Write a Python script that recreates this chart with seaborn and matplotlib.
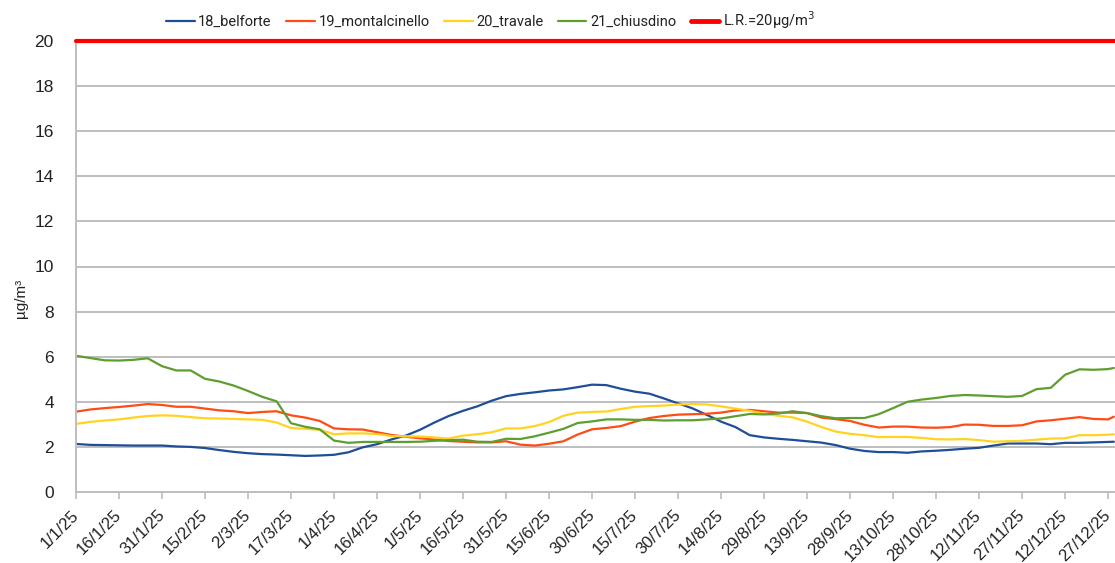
import matplotlib
matplotlib.use("Agg")
import matplotlib.pyplot as plt
from matplotlib.lines import Line2D
import seaborn as sns
import pandas as pd

# Sampling dates: every 5 days through the year, plus the last visible day
start = pd.Timestamp("2025-01-01")
day_offsets = list(range(0, 361, 5)) + [362]
dates = [start + pd.Timedelta(days=d) for d in day_offsets]

belforte = [2.13, 2.09, 2.08, 2.07, 2.06, 2.06, 2.06, 2.02, 2.00, 1.95,
            1.86, 1.78, 1.72, 1.68, 1.66, 1.63, 1.60, 1.62, 1.65, 1.76,
            1.98, 2.12, 2.33, 2.50, 2.76, 3.08, 3.37, 3.60, 3.80, 4.05,
            4.25, 4.35, 4.42, 4.50, 4.55, 4.65, 4.76, 4.74, 4.58, 4.45,
            4.36, 4.15, 3.93, 3.71, 3.42, 3.12, 2.88, 2.52, 2.42, 2.36,
            2.31, 2.25, 2.19, 2.08, 1.92, 1.82, 1.77, 1.77, 1.74, 1.80,
            1.83, 1.87, 1.92, 1.96, 2.06, 2.15, 2.15, 2.15, 2.12, 2.18,
            2.18, 2.20, 2.22, 2.23]

montalcinello = [3.56, 3.66, 3.72, 3.77, 3.83, 3.90, 3.86, 3.78, 3.78, 3.70,
                 3.62, 3.58, 3.50, 3.55, 3.58, 3.40, 3.30, 3.15, 2.82, 2.78,
                 2.77, 2.65, 2.53, 2.45, 2.38, 2.33, 2.26, 2.23, 2.20, 2.20,
                 2.25, 2.10, 2.06, 2.14, 2.25, 2.55, 2.78, 2.84, 2.92, 3.12,
                 3.28, 3.37, 3.43, 3.45, 3.47, 3.52, 3.62, 3.64, 3.58, 3.52,
                 3.52, 3.50, 3.30, 3.23, 3.15, 2.98, 2.86, 2.90, 2.90, 2.86,
                 2.85, 2.88, 2.99, 2.98, 2.93, 2.93, 2.96, 3.13, 3.18, 3.25,
                 3.32, 3.24, 3.22, 3.34]

travale = [3.02, 3.11, 3.17, 3.22, 3.30, 3.37, 3.40, 3.38, 3.32, 3.27,
           3.26, 3.24, 3.22, 3.20, 3.08, 2.84, 2.80, 2.76, 2.56, 2.60,
           2.60, 2.57, 2.48, 2.47, 2.46, 2.42, 2.37, 2.50, 2.56, 2.65,
           2.82, 2.82, 2.92, 3.10, 3.38, 3.52, 3.55, 3.57, 3.68, 3.78,
           3.81, 3.83, 3.88, 3.90, 3.88, 3.80, 3.70, 3.60, 3.47, 3.38,
           3.31, 3.12, 2.88, 2.68, 2.58, 2.52, 2.43, 2.44, 2.44, 2.40,
           2.34, 2.33, 2.35, 2.30, 2.23, 2.25, 2.27, 2.32, 2.37, 2.38,
           2.52, 2.52, 2.54, 2.56]

chiusdino = [6.04, 5.94, 5.84, 5.83, 5.86, 5.93, 5.58, 5.39, 5.39, 5.02,
             4.90, 4.72, 4.48, 4.22, 4.02, 3.05, 2.89, 2.78, 2.28, 2.18,
             2.22, 2.22, 2.22, 2.22, 2.23, 2.27, 2.30, 2.32, 2.23, 2.22,
             2.36, 2.35, 2.47, 2.63, 2.80, 3.06, 3.13, 3.22, 3.22, 3.20,
             3.20, 3.17, 3.18, 3.18, 3.22, 3.26, 3.36, 3.46, 3.44, 3.48,
             3.58, 3.50, 3.36, 3.27, 3.28, 3.28, 3.45, 3.72, 4.00, 4.10,
             4.17, 4.26, 4.30, 4.28, 4.25, 4.22, 4.26, 4.56, 4.62, 5.20,
             5.44, 5.42, 5.45, 5.50]

series_names = ["18_belforte", "19_montalcinello", "20_travale", "21_chiusdino"]
series_colors = ["#1F4E96", "#FF4B14", "#FFD320", "#5E9E2E"]
limit_value = 20
limit_label = "L.R.=20µg/m$^3$"

df = pd.DataFrame({
    "date": dates * 4,
    "value": belforte + montalcinello + travale + chiusdino,
    "station": sum([[n] * len(dates) for n in series_names], []),
})

sns.set_theme(style="white")
plt.rcParams["font.family"] = ["Liberation Sans", "DejaVu Sans"]

fig = plt.figure(figsize=(11.15, 5.63), dpi=100)
ax = fig.add_axes([76 / 1115, 71 / 563, 1 - 76 / 1115, 451 / 563])

sns.lineplot(data=df, x="date", y="value", hue="station",
             palette=dict(zip(series_names, series_colors)),
             linewidth=1.6, ax=ax, legend=False)

ax.axhline(limit_value, color="#FF0000", linewidth=3, clip_on=False, zorder=5)

# axes ranges and grid
ax.set_ylim(0, 20)
ax.set_yticks(range(0, 21, 2))
ax.set_xlim(start, start + pd.Timedelta(days=362.4))
ax.yaxis.grid(True, color="#BEBEBE", linewidth=1.4)
ax.set_axisbelow(True)

tick_dates = [start + pd.Timedelta(days=d) for d in range(0, 361, 15)]
tick_labels = [f"{d.day}/{d.month}/{d.strftime('%y')}" for d in tick_dates]
ax.set_xticks(tick_dates)
ax.set_xticklabels(tick_labels, rotation=45, ha="right", va="center",
                   rotation_mode="anchor", fontsize=12, color="#222222")
ax.tick_params(axis="x", bottom=True, length=5, width=1.2, color="#BEBEBE", pad=10)
ax.tick_params(axis="y", left=False, labelsize=12.5, labelcolor="#222222", pad=10)

for side in ["top", "right"]:
    ax.spines[side].set_visible(False)
for side in ["left", "bottom"]:
    ax.spines[side].set_color("#BEBEBE")
    ax.spines[side].set_linewidth(1.4)

ax.set_xlabel("")
ax.set_ylabel("µg/m³", fontsize=11, color="#222222")
ax.yaxis.set_label_coords(-0.046, 0.43)

handles = [Line2D([], [], color=c, linewidth=1.6) for c in series_colors]
handles.append(Line2D([], [], color="#FF0000", linewidth=3.5))
labels = series_names + [limit_label]
fig.legend(handles, labels, loc="center", bbox_to_anchor=(0.44, 0.964), ncol=5,
           frameon=False, handlelength=1.95, handletextpad=0.25,
           columnspacing=1.0, labelcolor="#222222",
           prop={"family": "Roboto", "size": 10.5})

fig.savefig("out.png", dpi=100)
